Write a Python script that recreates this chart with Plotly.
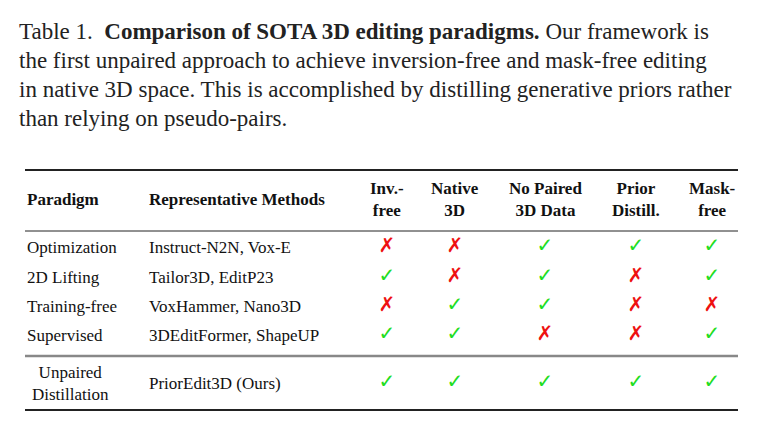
import plotly.graph_objects as go

# Caption text
caption = [
    "Table 1.  <b>Comparison of SOTA 3D editing paradigms.</b> Our framework is",
    "the first unpaired approach to achieve inversion-free and mask-free editing",
    "in native 3D space. This is accomplished by distilling generative priors rather",
    "than relying on pseudo-pairs.",
]

# Table data
headers = ["Paradigm", "Representative Methods", "Inv.-<br>free", "Native<br>3D",
           "No Paired<br>3D Data", "Prior<br>Distill.", "Mask-<br>free"]
paradigms = ["Optimization", "2D Lifting", "Training-free", "Supervised", "Unpaired<br>Distillation"]
methods = ["Instruct-N2N, Vox-E", "Tailor3D, EditP23", "VoxHammer, Nano3D",
           "3DEditFormer, ShapeUP", "PriorEdit3D (Ours)"]
inv_free = [0, 1, 0, 1, 1]
native_3d = [0, 0, 1, 1, 1]
no_paired = [1, 1, 1, 0, 1]
prior_distill = [1, 0, 0, 0, 1]
mask_free = [1, 1, 0, 1, 1]

flags = [inv_free, native_3d, no_paired, prior_distill, mask_free]
col_x = [387, 455, 545, 636, 712]
row_y = [247, 277, 306, 335, 383]
serif = "Liberation Serif"

fig = go.Figure()
ann = []
for i, line in enumerate(caption):
    ann.append(dict(x=17, y=31 + i * 29, text=line, xanchor="left", yanchor="middle",
                    showarrow=False, font=dict(family=serif, size=23, color="#222")))

hdr_x = [25, 147] + col_x
for j, h in enumerate(headers):
    ann.append(dict(x=hdr_x[j], y=199, text="<b>" + h + "</b>",
                    xanchor="left" if j < 2 else "center", yanchor="middle",
                    showarrow=False, font=dict(family=serif, size=17, color="#111")))

for r in range(len(paradigms)):
    ann.append(dict(x=25 if r < 4 else 70, y=row_y[r], text=paradigms[r],
                    xanchor="left" if r < 4 else "center", yanchor="middle",
                    showarrow=False, font=dict(family=serif, size=17, color="#111")))
    ann.append(dict(x=147, y=row_y[r], text=methods[r], xanchor="left", yanchor="middle",
                    showarrow=False, font=dict(family=serif, size=17, color="#111")))

for c, col in enumerate(flags):
    fig.add_trace(go.Scatter(
        x=[col_x[c]] * len(col), y=row_y, mode="text",
        text=["✓" if v else "✗" for v in col],
        textfont=dict(family="DejaVu Sans", size=20,
                      color=["#22dd22" if v else "#ee1111" for v in col]),
        showlegend=False, hoverinfo="skip"))

# rules
fig.add_shape(type="line", x0=25, x1=738, y0=170, y1=170, line=dict(color="#222", width=2))
fig.add_shape(type="line", x0=25, x1=738, y0=231, y1=231, line=dict(color="#222", width=1))
fig.add_shape(type="line", x0=25, x1=738, y0=356, y1=356, line=dict(color="#888", width=2.5))
fig.add_shape(type="line", x0=25, x1=738, y0=410, y1=410, line=dict(color="#222", width=2))

fig.update_layout(
    width=759, height=429, margin=dict(l=0, r=0, t=0, b=0),
    plot_bgcolor="white", paper_bgcolor="white", annotations=ann,
    xaxis=dict(range=[8, 767], visible=False, fixedrange=True),
    yaxis=dict(range=[437, 8], visible=False, fixedrange=True),
)
fig.write_html("out.html")
